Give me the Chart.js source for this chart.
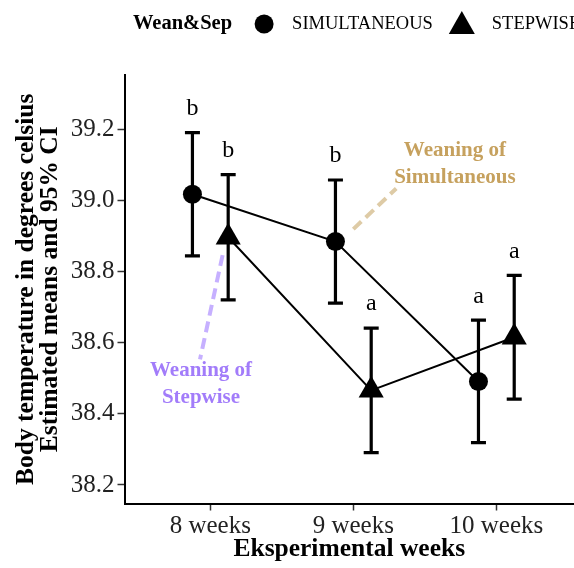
<!DOCTYPE html>
<html>
<head>
<meta charset="utf-8">
<script src="https://cdn.jsdelivr.net/npm/chart.js@4.4.1/dist/chart.umd.min.js"></script>
<style>
  html, body { margin: 0; padding: 0; background: #fff; }
  #wrap { width: 574px; height: 568px; }
</style>
</head>
<body>
<div id="wrap"><canvas id="c" width="574" height="568"></canvas></div>
<script>
// Experimental weeks on the x axis
const weeks = ['8 weeks', '9 weeks', '10 weeks'];
const groupTitle = 'Wean&Sep';
const groups = ['SIMULTANEOUS', 'STEPWISE'];

// Estimated means and 95% confidence limits (degrees celsius)
const simMean  = [39.017, 38.884, 38.491];
const simLower = [38.844, 38.711, 38.319];
const simUpper = [39.190, 39.057, 38.663];

const stepMean  = [38.896, 38.466, 38.615];
const stepLower = [38.720, 38.291, 38.441];
const stepUpper = [39.072, 38.641, 38.789];

// Significance letters shown above each interval
const simLetters  = ['b', 'b', 'a'];
const stepLetters = ['b', 'a', 'a'];

const yTicks = [38.2, 38.4, 38.6, 38.8, 39.0, 39.2];

const SERIF = '"Liberation Serif", "Times New Roman", serif';
const DODGE = 0.125;

function points(means, shift) {
  return means.map((m, i) => ({ x: i + 1 + shift, y: m }));
}

// Error bars with end caps, drawn under the markers
const errorBars = {
  id: 'errorBars',
  beforeDatasetsDraw(chart) {
    const { ctx } = chart;
    const ys = chart.scales.y;
    chart.data.datasets.forEach((ds, di) => {
      const meta = chart.getDatasetMeta(di);
      meta.data.forEach((pt, i) => {
        const x = pt.x;
        const yl = ys.getPixelForValue(ds.lower[i]);
        const yu = ys.getPixelForValue(ds.upper[i]);
        ctx.save();
        ctx.strokeStyle = '#000';
        ctx.lineWidth = 3.2;
        ctx.lineCap = 'butt';
        ctx.beginPath();
        ctx.moveTo(x, yu); ctx.lineTo(x, yl);
        ctx.moveTo(x - 7.5, yu); ctx.lineTo(x + 7.5, yu);
        ctx.moveTo(x - 7.5, yl); ctx.lineTo(x + 7.5, yl);
        ctx.stroke();
        ctx.restore();
      });
    });
  },
  afterDatasetsDraw(chart) {
    const { ctx } = chart;
    const ys = chart.scales.y;
    chart.data.datasets.forEach((ds, di) => {
      const meta = chart.getDatasetMeta(di);
      meta.data.forEach((pt, i) => {
        const yu = ys.getPixelForValue(ds.upper[i]);
        ctx.save();
        ctx.fillStyle = '#000';
        ctx.font = '24px ' + SERIF;
        ctx.textAlign = 'center';
        ctx.textBaseline = 'middle';
        ctx.fillText(ds.letters[i], pt.x, yu - 24);
        ctx.restore();
      });
    });
  }
};

// Dashed callouts with labels placed in data coordinates
const callouts = {
  id: 'callouts',
  afterDatasetsDraw(chart, args, opts) {
    const { ctx } = chart;
    const xs = chart.scales.x, ys = chart.scales.y;
    (opts.notes || []).forEach(n => {
      ctx.save();
      ctx.strokeStyle = n.lineColor;
      ctx.lineWidth = 4;
      ctx.setLineDash([11, 6]);
      ctx.beginPath();
      ctx.moveTo(xs.getPixelForValue(n.from[0]), ys.getPixelForValue(n.from[1]));
      ctx.lineTo(xs.getPixelForValue(n.to[0]), ys.getPixelForValue(n.to[1]));
      ctx.stroke();
      ctx.setLineDash([]);
      ctx.fillStyle = n.color;
      ctx.font = 'bold 21px ' + SERIF;
      ctx.textAlign = 'center';
      ctx.textBaseline = 'middle';
      const cx = xs.getPixelForValue(n.at[0]);
      const cy = ys.getPixelForValue(n.at[1]);
      n.text.forEach((t, k) => ctx.fillText(t, cx, cy + k * 27));
      ctx.restore();
    });
  }
};

// Horizontal legend across the top
const topLegend = {
  id: 'topLegend',
  afterDraw(chart) {
    const { ctx } = chart;
    const cy = 24;
    let x = 133;
    ctx.save();
    ctx.fillStyle = '#000';
    ctx.textBaseline = 'middle';
    ctx.textAlign = 'left';
    ctx.font = 'bold 20.5px ' + SERIF;
    ctx.fillText(groupTitle, x, cy);
    x += ctx.measureText(groupTitle).width + 19;
    chart.data.datasets.forEach((ds, di) => {
      const size = 26;
      const mx = x + size / 2;
      ctx.beginPath();
      if (ds.pointStyle === 'triangle') {
        ctx.moveTo(mx, cy - 13);
        ctx.lineTo(mx + 13, cy + 10);
        ctx.lineTo(mx - 13, cy + 10);
        ctx.closePath();
      } else {
        ctx.arc(mx, cy, 9.5, 0, Math.PI * 2);
      }
      ctx.fill();
      x += size + (ds.pointStyle === 'triangle' ? 17 : 15);
      ctx.font = '18.5px ' + SERIF;
      ctx.fillText(ds.label, x, cy);
      x += ctx.measureText(ds.label).width + 16;
    });
    ctx.restore();
  }
};

new Chart(document.getElementById('c'), {
  type: 'scatter',
  data: {
    datasets: [
      {
        label: groups[0],
        data: points(simMean, -DODGE),
        lower: simLower, upper: simUpper, letters: simLetters,
        showLine: true,
        borderColor: '#000', borderWidth: 2,
        pointStyle: 'circle', pointRadius: 9.5,
        pointBackgroundColor: '#000', pointBorderWidth: 0
      },
      {
        label: groups[1],
        data: points(stepMean, DODGE),
        lower: stepLower, upper: stepUpper, letters: stepLetters,
        showLine: true,
        borderColor: '#000', borderWidth: 2,
        pointStyle: 'triangle', pointRadius: 14.5,
        pointBackgroundColor: '#000', pointBorderWidth: 0
      }
    ]
  },
  options: {
    responsive: false,
    animation: false,
    layout: { autoPadding: false, padding: { top: 75, left: 0, right: 0, bottom: 0 } },
    plugins: {
      legend: { display: false },
      tooltip: { enabled: false },
      callouts: {
        notes: [
          { text: ['Weaning of', 'Simultaneous'], at: [2.71, 39.141],
            from: [2.0, 38.919], to: [2.30, 39.033],
            color: '#C6A15E', lineColor: '#DECBA6' },
          { text: ['Weaning of', 'Stepwise'], at: [0.935, 38.521],
            from: [1.086, 38.846], to: [0.928, 38.553],
            color: '#A27CFA', lineColor: '#C6B0FF' }
        ]
      }
    },
    scales: {
      x: {
        type: 'linear',
        min: 0.4, max: 3.543,
        afterBuildTicks(s) { s.ticks = weeks.map((w, i) => ({ value: i + 1 })); },
        afterFit(s) { s.height = 64.5; s.paddingLeft = 0; s.paddingRight = 0; },
        ticks: {
          callback: v => weeks[Math.round(v) - 1],
          color: '#222', font: { family: SERIF, size: 25 }, padding: 1, maxRotation: 0
        },
        grid: { drawOnChartArea: false, drawTicks: true, tickLength: 7, tickColor: '#333', tickWidth: 1.5 },
        border: { display: true, color: '#000', width: 2 },
        title: {
          display: true, text: 'Eksperimental weeks', color: '#000',
          font: { family: SERIF, size: 25.5, weight: 'bold' }, padding: { top: 0, bottom: 3 }
        }
      },
      y: {
        min: 38.148, max: 39.352,
        afterBuildTicks(s) { s.ticks = yTicks.map(v => ({ value: v })); },
        afterFit(s) { s.width = 124.5; s.paddingTop = 0; s.paddingBottom = 0; },
        ticks: {
          callback: v => v.toFixed(1),
          color: '#222', font: { family: SERIF, size: 25 }, padding: 3
        },
        grid: { drawOnChartArea: false, drawTicks: true, tickLength: 7, tickColor: '#333', tickWidth: 1.5 },
        border: { display: true, color: '#000', width: 2 },
        title: {
          display: true,
          text: ['Body temperature in degrees celsius', 'Estimated means and 95% CI'],
          color: '#000',
          font: { family: SERIF, size: 25.5, weight: 'bold', lineHeight: 0.95 },
          padding: { top: 14, bottom: 0 }
        }
      }
    }
  },
  plugins: [errorBars, callouts, topLegend]
});
</script>
</body>
</html>
